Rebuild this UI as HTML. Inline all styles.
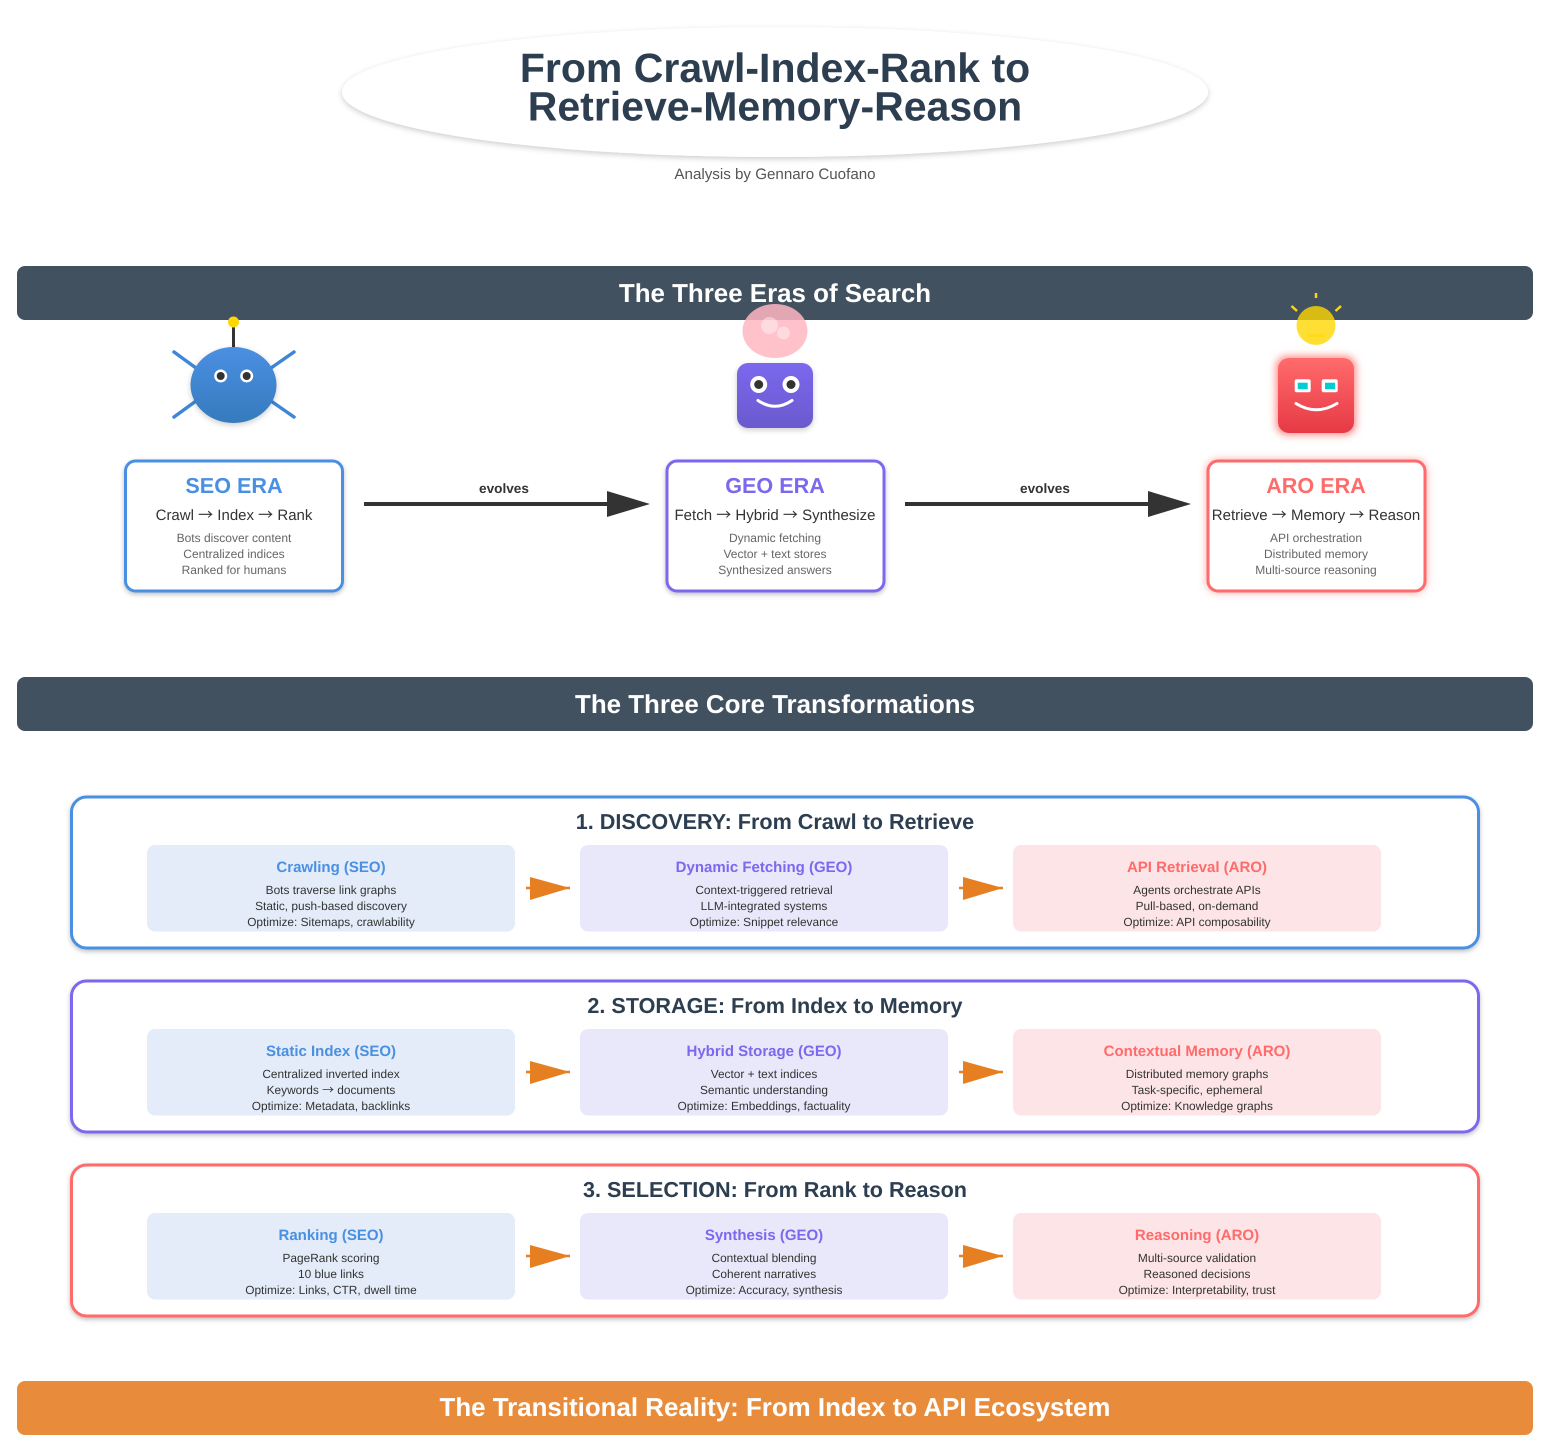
<!DOCTYPE html>
<html><head><meta charset="utf-8"><title>From Crawl-Index-Rank to Retrieve-Memory-Reason</title>
<style>
html,body{margin:0;padding:0;background:#fff}
svg{display:block}
text{font-family:"Liberation Sans",Arial,sans-serif;text-anchor:middle;text-rendering:geometricPrecision}
.ban{font-size:25.9px;font-weight:bold;fill:#fff}
.et{font-size:21.6px;font-weight:bold}
.es{font-size:15px;fill:#333}
.ed{font-size:12px;fill:#666}
.ev{font-size:13.6px;font-weight:bold;fill:#333}
.tt{font-size:21.6px;font-weight:bold;fill:#2c3e50}
.ct{font-size:15px;font-weight:bold}
.cd{font-size:11.88px;fill:#333}
.b{fill:#4a90e2}.p{fill:#7b68ee}.r{fill:#ff6b6b}
.ar{font-family:"Noto Sans CJK JP","Liberation Sans",sans-serif}
</style></head><body>
<svg xmlns="http://www.w3.org/2000/svg" width="1554" height="1446" viewBox="0 0 1554 1446">
<defs>
<filter id="sh" x="-10%" y="-20%" width="120%" height="140%"><feDropShadow dx="0" dy="2" stdDeviation="3" flood-color="#000" flood-opacity=".2"/></filter>
<filter id="sh2" x="-10%" y="-10%" width="120%" height="125%"><feDropShadow dx="0" dy="2" stdDeviation="2.5" flood-color="#000" flood-opacity=".25"/></filter>
<filter id="glow" x="-30%" y="-30%" width="160%" height="160%">
<feMorphology in="SourceAlpha" operator="dilate" radius="2" result="d"/>
<feGaussianBlur in="d" stdDeviation="4" result="bl"/>
<feFlood flood-color="#ff6b6b" flood-opacity=".8"/><feComposite in2="bl" operator="in" result="g"/>
<feMerge><feMergeNode in="g"/><feMergeNode in="SourceGraphic"/></feMerge>
</filter>
<filter id="glow2" x="-10%" y="-10%" width="120%" height="120%">
<feGaussianBlur in="SourceAlpha" stdDeviation="4" result="bl"/>
<feFlood flood-color="#ff6b6b" flood-opacity=".6"/><feComposite in2="bl" operator="in" result="g"/>
<feMerge><feMergeNode in="g"/><feMergeNode in="SourceGraphic"/></feMerge>
</filter>
<linearGradient id="gb" x1="0" y1="0" x2="0" y2="1"><stop offset="0" stop-color="#4a90e2"/><stop offset="1" stop-color="#357abd"/></linearGradient>
<linearGradient id="gp" x1="0" y1="0" x2="0" y2="1"><stop offset="0" stop-color="#7b68ee"/><stop offset="1" stop-color="#6a5acd"/></linearGradient>
<linearGradient id="gr" x1="0" y1="0" x2="0" y2="1"><stop offset="0" stop-color="#ff6b6b"/><stop offset="1" stop-color="#e63946"/></linearGradient>
</defs>

<ellipse cx="775" cy="92" rx="433" ry="65" fill="#fff" filter="url(#sh)"/>
<text x="775" y="82" font-size="41" font-weight="bold" fill="#2c3e50">From Crawl-Index-Rank to</text>
<text x="775" y="120.500" font-size="41" font-weight="bold" fill="#2c3e50">Retrieve-Memory-Reason</text>
<text x="775" y="179" font-size="15.15" fill="#555">Analysis by Gennaro Cuofano</text>

<rect x="17" y="266" width="1516" height="54" rx="8" fill="#415160"/>
<text class="ban" x="775" y="302">The Three Eras of Search</text>
<rect x="17" y="677" width="1516" height="54" rx="8" fill="#415160"/>
<text class="ban" x="775" y="713">The Three Core Transformations</text>
<rect x="17" y="1381" width="1516" height="54" rx="8" fill="#e88c3c"/>
<text class="ban" x="775" y="1416">The Transitional Reality: From Index to API Ecosystem</text>

<!-- spider -->
<g stroke="#3f86d6" stroke-width="3.500" stroke-linecap="round">
<line x1="174" y1="352" x2="196" y2="368"/><line x1="294" y1="352" x2="271" y2="368"/>
<line x1="196" y1="401" x2="174" y2="417"/><line x1="271" y1="401" x2="294" y2="417"/>
</g>
<line x1="233.500" y1="326" x2="233.500" y2="350" stroke="#333" stroke-width="3"/>
<circle cx="233.500" cy="322" r="5.500" fill="#ffd700"/>
<ellipse cx="233.500" cy="385" rx="43" ry="38" fill="url(#gb)" filter="url(#sh)"/>
<circle cx="220.700" cy="376" r="6.500" fill="#fff"/><circle cx="220.700" cy="376" r="4" fill="#333"/>
<circle cx="246.700" cy="376" r="6.500" fill="#fff"/><circle cx="246.700" cy="376" r="4" fill="#333"/>

<!-- GEO robot -->
<ellipse cx="775" cy="331" rx="32.500" ry="27" fill="#ffb6c1" fill-opacity=".85"/>
<circle cx="769.500" cy="325.500" r="8.500" fill="#fff" fill-opacity=".4"/>
<circle cx="783.500" cy="333" r="6.500" fill="#fff" fill-opacity=".4"/>
<rect x="737" y="363" width="76" height="65" rx="11" fill="url(#gp)" filter="url(#sh)"/>
<circle cx="758.700" cy="384.500" r="8.500" fill="#fff"/><circle cx="758.700" cy="384.500" r="4.500" fill="#333"/>
<circle cx="791" cy="384.500" r="8.500" fill="#fff"/><circle cx="791" cy="384.500" r="4.500" fill="#333"/>
<path d="M758 400.500 Q775 412 792 400.500" fill="none" stroke="#fff" stroke-width="3" stroke-linecap="round"/>

<!-- ARO robot -->
<g stroke="#ffd700" stroke-width="2.500"><line x1="1316" y1="293" x2="1316" y2="298"/><line x1="1291.500" y1="306" x2="1297" y2="311"/><line x1="1341" y1="306" x2="1335.500" y2="311"/></g>
<circle cx="1316" cy="325.500" r="19.500" fill="#ffd700" fill-opacity=".8"/>
<rect x="1308" y="334" width="17" height="3" fill="#ffd700" fill-opacity=".5"/>
<rect x="1278" y="358" width="76" height="75" rx="11" fill="url(#gr)" filter="url(#glow)"/>
<rect x="1294.700" y="379.300" width="16" height="13" rx="2" fill="#fff"/><rect x="1297.700" y="382.700" width="10" height="6.500" fill="#00ced1"/>
<rect x="1321.700" y="379.300" width="16" height="13" rx="2" fill="#fff"/><rect x="1325" y="382.700" width="10" height="6.500" fill="#00ced1"/>
<path d="M1296 403.500 Q1316 416 1337 403.500" fill="none" stroke="#fff" stroke-width="3" stroke-linecap="round"/>

<!-- era boxes -->
<rect x="125.500" y="461" width="217" height="130" rx="10" fill="#fff" stroke="#4a90e2" stroke-width="3" filter="url(#sh2)"/>
<text class="et b" x="234" y="493">SEO ERA</text>
<text class="es" x="234" y="520">Crawl <tspan class="ar">→</tspan> Index <tspan class="ar">→</tspan> Rank</text>
<text class="ed" x="234" y="542">Bots discover content</text>
<text class="ed" x="234" y="558">Centralized indices</text>
<text class="ed" x="234" y="574">Ranked for humans</text>

<rect x="667" y="461" width="217" height="130" rx="10" fill="#fff" stroke="#7b68ee" stroke-width="3" filter="url(#sh2)"/>
<text class="et p" x="775" y="493">GEO ERA</text>
<text class="es" x="775" y="520">Fetch <tspan class="ar">→</tspan> Hybrid <tspan class="ar">→</tspan> Synthesize</text>
<text class="ed" x="775" y="542">Dynamic fetching</text>
<text class="ed" x="775" y="558">Vector + text stores</text>
<text class="ed" x="775" y="574">Synthesized answers</text>

<rect x="1208" y="461" width="217" height="130" rx="10" fill="#fff" stroke="#ff6b6b" stroke-width="3" filter="url(#glow2)"/>
<text class="et r" x="1316" y="493">ARO ERA</text>
<text class="es" x="1316" y="520">Retrieve <tspan class="ar">→</tspan> Memory <tspan class="ar">→</tspan> Reason</text>
<text class="ed" x="1316" y="542">API orchestration</text>
<text class="ed" x="1316" y="558">Distributed memory</text>
<text class="ed" x="1316" y="574">Multi-source reasoning</text>

<!-- evolves arrows -->
<g fill="#333" stroke="#333">
<line x1="364" y1="504" x2="610" y2="504" stroke-width="4"/><polygon points="607,491 650,504 607,517" stroke="none"/>
<line x1="905" y1="504" x2="1151" y2="504" stroke-width="4"/><polygon points="1148,491 1191,504 1148,517" stroke="none"/>
</g>
<text class="ev" x="504" y="493">evolves</text>
<text class="ev" x="1045" y="493">evolves</text>

<!-- Transformation 1 -->
<rect x="71.500" y="797" width="1407" height="151" rx="15" fill="#fff" stroke="#4a90e2" stroke-width="3" filter="url(#sh2)"/>
<text class="tt" x="775" y="829">1. DISCOVERY: From Crawl to Retrieve</text>
<rect x="147" y="845" width="368" height="86.500" rx="8" fill="#e3ecf8"/>
<rect x="580" y="845" width="368" height="86.500" rx="8" fill="#e9e7fa"/>
<rect x="1013" y="845" width="368" height="86.500" rx="8" fill="#fde4e6"/>
<text class="ct b" x="331" y="872">Crawling (SEO)</text>
<text class="cd" x="331" y="894">Bots traverse link graphs</text>
<text class="cd" x="331" y="910">Static, push-based discovery</text>
<text class="cd" x="331" y="926">Optimize: Sitemaps, crawlability</text>
<text class="ct p" x="764" y="872">Dynamic Fetching (GEO)</text>
<text class="cd" x="764" y="894">Context-triggered retrieval</text>
<text class="cd" x="764" y="910">LLM-integrated systems</text>
<text class="cd" x="764" y="926">Optimize: Snippet relevance</text>
<text class="ct r" x="1197" y="872">API Retrieval (ARO)</text>
<text class="cd" x="1197" y="894">Agents orchestrate APIs</text>
<text class="cd" x="1197" y="910">Pull-based, on-demand</text>
<text class="cd" x="1197" y="926">Optimize: API composability</text>

<!-- Transformation 2 -->
<rect x="71.500" y="981" width="1407" height="151" rx="15" fill="#fff" stroke="#7b68ee" stroke-width="3" filter="url(#sh2)"/>
<text class="tt" x="775" y="1013">2. STORAGE: From Index to Memory</text>
<rect x="147" y="1029" width="368" height="86.500" rx="8" fill="#e3ecf8"/>
<rect x="580" y="1029" width="368" height="86.500" rx="8" fill="#e9e7fa"/>
<rect x="1013" y="1029" width="368" height="86.500" rx="8" fill="#fde4e6"/>
<text class="ct b" x="331" y="1056">Static Index (SEO)</text>
<text class="cd" x="331" y="1078">Centralized inverted index</text>
<text class="cd" x="331" y="1094">Keywords <tspan class="ar">→</tspan> documents</text>
<text class="cd" x="331" y="1110">Optimize: Metadata, backlinks</text>
<text class="ct p" x="764" y="1056">Hybrid Storage (GEO)</text>
<text class="cd" x="764" y="1078">Vector + text indices</text>
<text class="cd" x="764" y="1094">Semantic understanding</text>
<text class="cd" x="764" y="1110">Optimize: Embeddings, factuality</text>
<text class="ct r" x="1197" y="1056">Contextual Memory (ARO)</text>
<text class="cd" x="1197" y="1078">Distributed memory graphs</text>
<text class="cd" x="1197" y="1094">Task-specific, ephemeral</text>
<text class="cd" x="1197" y="1110">Optimize: Knowledge graphs</text>

<!-- Transformation 3 -->
<rect x="71.500" y="1165" width="1407" height="151" rx="15" fill="#fff" stroke="#ff6b6b" stroke-width="3" filter="url(#sh2)"/>
<text class="tt" x="775" y="1197">3. SELECTION: From Rank to Reason</text>
<rect x="147" y="1213" width="368" height="86.500" rx="8" fill="#e3ecf8"/>
<rect x="580" y="1213" width="368" height="86.500" rx="8" fill="#e9e7fa"/>
<rect x="1013" y="1213" width="368" height="86.500" rx="8" fill="#fde4e6"/>
<text class="ct b" x="331" y="1240">Ranking (SEO)</text>
<text class="cd" x="331" y="1262">PageRank scoring</text>
<text class="cd" x="331" y="1278">10 blue links</text>
<text class="cd" x="331" y="1294">Optimize: Links, CTR, dwell time</text>
<text class="ct p" x="764" y="1240">Synthesis (GEO)</text>
<text class="cd" x="764" y="1262">Contextual blending</text>
<text class="cd" x="764" y="1278">Coherent narratives</text>
<text class="cd" x="764" y="1294">Optimize: Accuracy, synthesis</text>
<text class="ct r" x="1197" y="1240">Reasoning (ARO)</text>
<text class="cd" x="1197" y="1262">Multi-source validation</text>
<text class="cd" x="1197" y="1278">Reasoned decisions</text>
<text class="cd" x="1197" y="1294">Optimize: Interpretability, trust</text>

<!-- small arrows -->
<g fill="#e67e22" stroke="#e67e22">
<line x1="526" y1="888" x2="570" y2="888" stroke-width="2.500"/><polygon points="530,877 570,888 530,900" stroke="none"/>
<line x1="959" y1="888" x2="1003" y2="888" stroke-width="2.500"/><polygon points="963,877 1003,888 963,900" stroke="none"/>
<line x1="526" y1="1072" x2="570" y2="1072" stroke-width="2.500"/><polygon points="530,1061 570,1072 530,1084" stroke="none"/>
<line x1="959" y1="1072" x2="1003" y2="1072" stroke-width="2.500"/><polygon points="963,1061 1003,1072 963,1084" stroke="none"/>
<line x1="526" y1="1256" x2="570" y2="1256" stroke-width="2.500"/><polygon points="530,1245 570,1256 530,1268" stroke="none"/>
<line x1="959" y1="1256" x2="1003" y2="1256" stroke-width="2.500"/><polygon points="963,1245 1003,1256 963,1268" stroke="none"/>
</g>
</svg>
</body></html>
